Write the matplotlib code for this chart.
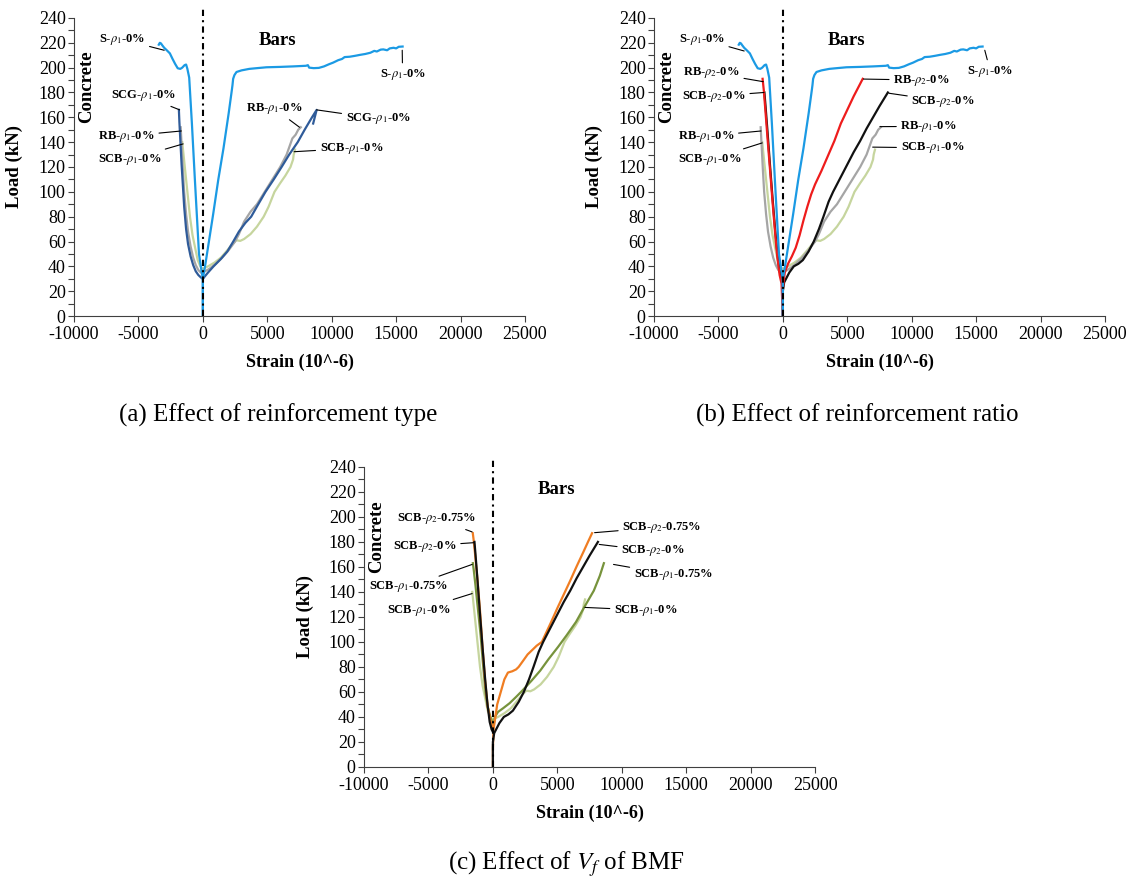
import matplotlib
matplotlib.use("Agg")
import matplotlib.pyplot as plt
from matplotlib.ticker import MultipleLocator

plt.rcParams["font.family"] = "Liberation Serif"
plt.rcParams["mathtext.fontset"] = "stix"
plt.rcParams["axes.unicode_minus"] = False

# ── Data (strain in 10^-6, load in kN) ──────────────────────────────────────
# S-rho1-0% (steel bars)
S_conc_strain = [0, 0, -100, -300, -620, -850, -1060, -1200, -1300, -1420, -1600, -1750,
                 -1950, -2150, -2350, -2560, -2800, -3000, -3150, -3250, -3340, -3420]
S_conc_load = [0, 30, 36, 50, 110, 155, 192, 199, 202.5, 202, 200, 199,
               199.5, 203, 207, 211.5, 214, 216, 218, 219.5, 220, 218.5]
S_bar_strain = [0, 0, 200, 500, 800, 1200, 1600, 2000, 2250, 2300, 2350, 2450, 2610, 3000,
                3600, 4200, 4940, 6000, 7000, 8000, 8150, 8250, 8600, 9000, 9400, 9800,
                10100, 10500, 10800, 11000, 11400, 11800, 12200, 12600, 13000, 13300,
                13500, 13800, 14000, 14300, 14500, 14800, 15000, 15200, 15500]
S_bar_load = [0, 30, 42, 62, 82, 110, 135, 163, 182, 186, 191, 194, 196.5, 197.8,
              199, 199.6, 200.3, 200.6, 201, 201.5, 202, 200, 199.6, 199.8, 201, 202.8,
              204, 206, 207, 208.5, 208.8, 209.5, 210.3, 211, 212, 213.5,
              213, 214.5, 214.7, 214, 215.5, 216, 215.5, 216.8, 217]

# SCG-rho1-0%
SCG_conc_strain = [0, -150, -350, -550, -750, -950, -1150, -1300, -1450, -1550, -1650,
                   -1750, -1820, -1860]
SCG_conc_load = [30, 31, 33, 36, 41, 48, 58, 70, 88, 105, 122, 142, 156, 166]
SCG_bar_strain = [0, 400, 830, 1400, 1900, 2360, 2800, 3300, 3750, 4300, 4860, 5500,
                  6110, 6700, 7360, 7900, 8470, 8830, 8560]
SCG_bar_load = [30, 35, 40, 46, 52, 60, 68, 75, 80, 90, 100, 110, 120, 130, 140, 150,
                160, 166, 155]

# RB-rho1-0%
RB1_conc_strain = [0, -150, -350, -550, -750, -950, -1150, -1300, -1450, -1550, -1650,
                   -1720]
RB1_conc_load = [34, 35, 37, 41, 47, 56, 68, 82, 100, 118, 138, 152]
RB1_bar_strain = [0, 500, 1000, 1500, 2000, 2500, 2800, 3200, 3700, 4200, 4800, 5400,
                  6000, 6500, 6945, 7200, 7400, 7600]
RB1_bar_load = [35, 38, 42, 47, 53, 60, 66, 76, 84, 90, 100, 110, 120, 130, 143, 146,
                150, 152]

# SCB-rho1-0%
SCB1_conc_strain = [0, -200, -400, -600, -800, -1000, -1200, -1350, -1450, -1550, -1600]
SCB1_conc_load = [38, 40, 45, 55, 65, 80, 100, 115, 125, 135, 140]
SCB1_bar_strain = [0, 400, 900, 1400, 1900, 2300, 2600, 2900, 3200, 3700, 4200, 4720,
                   5100, 5560, 6000, 6400, 6800, 7000, 7050, 7150]
SCB1_bar_load = [38, 40, 43, 47, 53, 58, 61, 60.5, 62, 66, 72, 80, 88, 100, 107, 113,
                 120, 126, 130, 134]

# RB-rho2-0%
RB2_conc_strain = [0, -100, -250, -400, -560, -745, -950, -1150, -1350, -1480, -1570]
RB2_conc_load = [0, 26, 33, 45, 62, 85, 112, 138, 165, 182, 191]
RB2_bar_strain = [0, 0, 150, 400, 700, 1000, 1300, 1600, 1900, 2200, 2500, 3000, 3500,
                  4000, 4500, 5000, 5500, 5800, 6000, 6200]
RB2_bar_load = [0, 22, 35, 42, 48, 55, 65, 77, 88, 98, 106, 117, 129, 141, 155, 166,
                177, 183, 187, 191]

# SCB-rho2-0%
SCB2_conc_strain = [0, -100, -250, -420, -600, -800, -1000, -1200, -1350, -1430]
SCB2_conc_load = [28, 30, 36, 50, 70, 95, 122, 150, 170, 180]
SCB2_bar_strain = [0, 0, 100, 250, 500, 850, 1200, 1550, 2000, 2400, 2800, 3150, 3550,
                   3900, 4500, 5000, 5500, 6000, 6500, 7000, 7500, 8150]
SCB2_bar_load = [0, 20, 27, 30, 35, 40, 42, 45, 52, 60, 70, 80, 92, 100, 112, 122, 132,
                 141, 151, 160, 169, 180]

# SCB-rho2-0.75%
SCB2F_conc_strain = [0, -200, -400, -600, -800, -1000, -1200, -1400, -1500, -1560]
SCB2F_conc_load = [30, 38, 48, 68, 95, 125, 150, 172, 182, 187]
SCB2F_bar_strain = [0, 0, 50, 194, 333, 611, 889, 1167, 1500, 1800, 2000, 2350, 2695,
                    3000, 3400, 3800, 4500, 5000, 5500, 6000, 6500, 7000, 7400, 7695]
SCB2F_bar_load = [0, 15, 30, 40, 50, 60, 70, 75.5, 76.5, 78, 80, 85, 90, 93, 97, 100,
                  115.5, 127, 138, 149, 160.5, 171.5, 180.5, 187]

# SCB-rho1-0.75%
SCB1F_conc_strain = [0, -200, -400, -556, -750, -950, -1150, -1350, -1480, -1556]
SCB1F_conc_load = [35, 40, 48, 58, 80, 105, 125, 145, 157, 163]
SCB1F_bar_strain = [0, 150, 400, 800, 1300, 1800, 2280, 3000, 3670, 4300, 5056, 5700,
                    6450, 7100, 7830, 8300, 8612]
SCB1F_bar_load = [30, 40, 44, 47, 51, 56, 61, 69, 77, 86, 96, 105, 116, 128, 141, 153,
                  163]

# colours
C_S = "#1b9ae4"
C_SCG = "#2f5b99"
C_RB1 = "#a5a5a5"
C_SCB1 = "#c6d59e"
C_RB2 = "#ee1c1c"
C_SCB2 = "#111111"
C_SCB2F = "#f07d22"
C_SCB1F = "#77933c"

series = {
    "S": (S_conc_strain, S_conc_load, S_bar_strain, S_bar_load, C_S),
    "SCG": (SCG_conc_strain, SCG_conc_load, SCG_bar_strain, SCG_bar_load, C_SCG),
    "RB1": (RB1_conc_strain, RB1_conc_load, RB1_bar_strain, RB1_bar_load, C_RB1),
    "SCB1": (SCB1_conc_strain, SCB1_conc_load, SCB1_bar_strain, SCB1_bar_load, C_SCB1),
    "RB2": (RB2_conc_strain, RB2_conc_load, RB2_bar_strain, RB2_bar_load, C_RB2),
    "SCB2": (SCB2_conc_strain, SCB2_conc_load, SCB2_bar_strain, SCB2_bar_load, C_SCB2),
    "SCB2F": (SCB2F_conc_strain, SCB2F_conc_load, SCB2F_bar_strain, SCB2F_bar_load, C_SCB2F),
    "SCB1F": (SCB1F_conc_strain, SCB1F_conc_load, SCB1F_bar_strain, SCB1F_bar_load, C_SCB1F),
}

# curves drawn per panel (bottom to top)
panel_a_curves = ["SCB1", "RB1", "SCG", "S"]
panel_b_curves = ["SCB1", "RB1", "SCB2", "RB2", "S"]
panel_c_curves = ["SCB1", "SCB1F", "SCB2F", "SCB2"]

# labels: (text, text position, leader tip)
panel_a_labels = [
    (r"S-$\rho_1$-0%", (-6250, 222.7), (-3000, 214)),
    (r"SCG-$\rho_1$-0%", (-4580, 177.5), (-1800, 166)),
    (r"RB-$\rho_1$-0%", (-5920, 144.8), (-1670, 149)),
    (r"SCB-$\rho_1$-0%", (-5700, 126), (-1530, 138.6)),
    (r"RB-$\rho_1$-0%", (5560, 167), (7500, 152)),
    (r"SCG-$\rho_1$-0%", (13600, 158.9), (8830, 166)),
    (r"SCB-$\rho_1$-0%", (11530, 135), (7080, 132.3)),
    (r"S-$\rho_1$-0%", (15500, 194.5), (15470, 214)),
]
panel_b_labels = [
    (r"S-$\rho_1$-0%", (-6290, 223), (-3000, 213.4)),
    (r"RB-$\rho_2$-0%", (-5530, 195.8), (-1520, 188.7)),
    (r"SCB-$\rho_2$-0%", (-5340, 177), (-1460, 180)),
    (r"RB-$\rho_1$-0%", (-5950, 144.8), (-1690, 149)),
    (r"SCB-$\rho_1$-0%", (-5670, 126), (-1600, 139.4)),
    (r"RB-$\rho_2$-0%", (10760, 190), (6260, 190.8)),
    (r"SCB-$\rho_2$-0%", (12440, 173), (8230, 179.4)),
    (r"RB-$\rho_1$-0%", (11320, 152.7), (7530, 152.5)),
    (r"SCB-$\rho_1$-0%", (11600, 135.4), (6970, 136)),
    (r"S-$\rho_1$-0%", (16100, 197), (15670, 214)),
]
panel_c_labels = [
    (r"SCB-$\rho_2$-0.75%", (-4390, 198.5), (-1610, 188)),
    (r"SCB-$\rho_2$-0%", (-5280, 176.7), (-1470, 179.4)),
    (r"SCB-$\rho_1$-0.75%", (-6530, 144), (-1610, 162)),
    (r"SCB-$\rho_1$-0%", (-5720, 125.4), (-1610, 138.7)),
    (r"SCB-$\rho_2$-0.75%", (13110, 191.9), (7890, 187.4)),
    (r"SCB-$\rho_2$-0%", (12420, 172.8), (8250, 178)),
    (r"SCB-$\rho_1$-0.75%", (14000, 153.6), (9360, 162)),
    (r"SCB-$\rho_1$-0%", (11860, 125.4), (7140, 127.6)),
]

captions = ["(a) Effect of reinforcement type",
            "(b) Effect of reinforcement ratio",
            r"(c) Effect of $V_f$ of BMF"]


def draw_panel(ax, curves, labels, bars_x):
    for key in curves:
        cs, cl, bs, bl, col = series[key]
        ax.plot(cs, cl, color=col, lw=1.6, solid_joinstyle="round")
        ax.plot(bs, bl, color=col, lw=1.6, solid_joinstyle="round")

    ax.plot([0, 0], [0, 247], color="black", lw=1.5,
            linestyle=(0, (3, 2, 1, 2)), clip_on=False, zorder=10)

    for text, txy, tip in labels:
        ax.annotate(text, xy=tip, xytext=txy, ha="center", va="center",
                    fontsize=9, fontweight="bold",
                    arrowprops=dict(arrowstyle="-", color="black", lw=0.8,
                                    shrinkA=1, shrinkB=0))

    ax.text(bars_x, 222, "Bars", fontsize=13.5, fontweight="bold",
            ha="center", va="center")
    ax.text(-9000, 184.5, "Concrete", fontsize=13.5, fontweight="bold",
            rotation=90, ha="center", va="center")

    ax.set_xlim(-10000, 25000)
    ax.set_ylim(0, 240)
    ax.xaxis.set_major_locator(MultipleLocator(5000))
    ax.yaxis.set_major_locator(MultipleLocator(20))
    ax.yaxis.set_minor_locator(MultipleLocator(10))
    ax.tick_params(axis="both", which="both", direction="out", length=4,
                   width=0.8, color="#404040", labelsize=13, pad=2)
    ax.tick_params(axis="x", pad=3)
    for side in ["top", "right"]:
        ax.spines[side].set_visible(False)
    for side in ["left", "bottom"]:
        ax.spines[side].set_color("#404040")
        ax.spines[side].set_linewidth(0.8)

    ax.set_xlabel("Strain (10^-6)", fontsize=13, fontweight="bold")
    ax.set_ylabel("Load (kN)", fontsize=13.5, fontweight="bold")
    ax.xaxis.set_label_coords(0.5, -0.125)
    ax.yaxis.set_label_coords(-0.112, 0.5)


fig = plt.figure(figsize=(11.33, 8.81), dpi=100)
ax_a = fig.add_axes([0.0653, 0.6413, 0.3981, 0.3383])
ax_b = fig.add_axes([0.5772, 0.6413, 0.3981, 0.3383])
ax_c = fig.add_axes([0.3213, 0.1295, 0.3981, 0.3405])

draw_panel(ax_a, panel_a_curves, panel_a_labels, 5780)
draw_panel(ax_b, panel_b_curves, panel_b_labels, 4920)
draw_panel(ax_c, panel_c_curves, panel_c_labels, 4920)

fig.text(278.6 / 1133, 1 - 415 / 881, captions[0], fontsize=18,
         ha="center", va="center")
fig.text(857 / 1133, 1 - 415 / 881, captions[1], fontsize=18,
         ha="center", va="center")
fig.text(566 / 1133, 1 - 864 / 881, captions[2], fontsize=18,
         ha="center", va="center")

fig.savefig("out.png", dpi=100)
